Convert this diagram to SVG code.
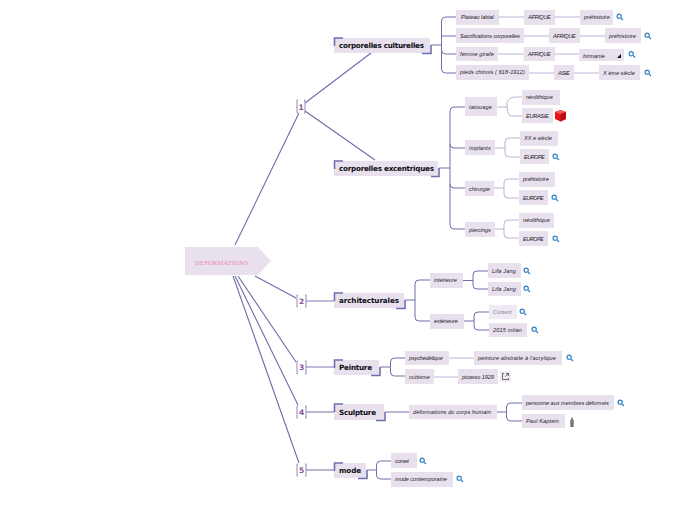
<svg xmlns="http://www.w3.org/2000/svg" width="697" height="520" viewBox="0 0 697 520">
<style>
.n{fill:#e8e1ed}
.t{font-family:"Liberation Sans",sans-serif;font-style:italic;font-size:5.6px;fill:#1d1828;letter-spacing:.2px}
.h{font-family:"DejaVu Sans",sans-serif;font-weight:700;font-size:7.2px;fill:#0c0c12}
.b{font-family:"DejaVu Sans",sans-serif;font-weight:700;font-size:7.5px;fill:#8a5090;text-anchor:middle}
.c,.d,.l,.br,.cn{fill:none}
.d{stroke:#6f6fa8;stroke-width:1}
.c{stroke:#6d6da9;stroke-width:1.1}
.l{stroke:#b6b6d6;stroke-width:1}
.lt{fill:none;stroke:#a9a9cf;stroke-width:1.4}
.br{stroke:#6f6fb0;stroke-width:1.6}
.bk{fill:none;stroke:#8f89ba;stroke-width:1}
.s{fill:none;stroke:#2f80c6;stroke-width:1.2}
</style>
<defs>
<g id="search"><circle cx="-.8" cy="-.8" r="2.1" class="s"/><path d="M.8 .8L3 3" class="s" stroke-width="1.5"/></g>
</defs>
<g id="connectors">
<path class="c" d="M235 245L299 113M305 103L371 53M305 111L375 160M255 276L296 298M238 276L296 362M235 276L298 405M233 276L299 463"/>
<path class="lt" d="M306 301H334M306 367H334"/>
<path class="d" d="M306 412H334M306 470H334"/>
<path class="d" d="M431 45H441.500M456 17H445.500Q441.500 17 441.500 21V69Q441.500 73 445.500 73H456M441.500 36H456M441.500 50Q441.500 54 445.500 54H456"/>
<path class="l" d="M499 17H524M555 17H580M524 36H549M580 36H605M498 54H523.500M555 54H579M529 73H554M574 73H599"/>
<path class="d" d="M439 168H450M465 107H454Q450 107 450 111V225Q450 229 454 229H465M450 144Q450 148 454 148H465M450 184Q450 188 454 188H465"/>
<path class="l" d="M497 107H507M522 97H514Q510 97 507 102Q507 107 507 107Q507 112 510 116H522M495 148H505M520 138H509Q505 138 505 142V153Q505 157 509 157H520M494 188H504M519 179H508Q504 179 504 183V194Q504 198 508 198H519M495 229H504M519 220H508Q504 220 504 224V234Q504 238 508 238H519"/>
<path class="d" d="M405 300H415M430 280H419Q415 280 415 284V317Q415 321 419 321H430"/>
<path class="d" d="M463 280.500H473M488 271H477Q473 271 473 275V285Q473 289 477 289H488M464 321H474M489 312H478Q474 312 474 316V326Q474 330 478 330H489"/>
<path class="d" d="M380 367H390.500M405 358H394.500Q390.500 358 390.500 362V372Q390.500 376 394.500 376H405"/>
<path class="l" d="M449 358H474M434 377H458"/>
<path class="d" d="M385 412H409M497 412H506.500M522 403H510.500Q506.500 403 506.500 407V417Q506.500 421 510.500 421H522"/>
<path class="d" d="M367 470H376.500M391 461H380.500Q376.500 461 376.500 465V475Q376.500 479 380.500 479H391"/>
</g>
<g id="root"><path class="n" d="M185 247H258L271 261L258 275H185Z"/><text x="195" y="265" font-family="Liberation Serif,serif" font-size="6.500" fill="#ee82b4" textLength="53">DEFORMATIONS</text></g>
<g id="badge1"><path class="bk" d="M298 100H297V113H298M304 100H305V113H304"/><text class="b" x="301" y="110">1</text></g>
<g id="badge2"><path class="bk" d="M298 295H297V307H298M305 295H306V307H305"/><text class="b" x="301.500" y="304">2</text></g>
<g id="badge3"><path class="bk" d="M298 361H297V374H298M305 361H306V374H305"/><text class="b" x="301.500" y="370">3</text></g>
<g id="badge4"><path class="bk" d="M298 406H297V418H298M305 406H306V418H305"/><text class="b" x="301.500" y="415">4</text></g>
<g id="badge5"><path class="bk" d="M298 464H297V476H298M305 464H306V476H305"/><text class="b" x="301.500" y="473">5</text></g>

<g id="h1"><rect class="n" x="334" y="38" width="96" height="15"/><path class="br" d="M334.500 46V38H343M422 53.500H431V45"/><text class="h" x="339" y="48" textLength="85">corporelles culturelles</text></g>
<g id="h2"><rect class="n" x="334" y="161" width="104" height="15"/><path class="br" d="M334.500 169V161H343M431 176.500H439V168"/><text class="h" x="339" y="171" textLength="95">corporelles excentriques</text></g>
<g id="h3"><rect class="n" x="334" y="293" width="70" height="15"/><path class="br" d="M334.500 301V293H343M396 308.500H405V300"/><text class="h" x="339" y="303" textLength="60">architecturales</text></g>
<g id="h4"><rect class="n" x="334" y="360" width="45" height="15"/><path class="br" d="M334.500 368V360H343M371 375.500H380V367"/><text class="h" x="339" y="370" textLength="33">Peinture</text></g>
<g id="h5"><rect class="n" x="334" y="404" width="50" height="16"/><path class="br" d="M334.500 412V404H343M376 420.500H385V412"/><text class="h" x="339" y="415" textLength="37">Sculpture</text></g>
<g id="h6"><rect class="n" x="334" y="463" width="32" height="15"/><path class="br" d="M334.500 471V463H343M358 478.500H367V470"/><text class="h" x="339" y="473" textLength="22">mode</text></g>

<g id="n1"><rect class="n" x="456" y="10" width="43" height="15"/><text class="t" x="461" y="19" textLength="33">Plateau labial</text></g>
<g id="n2"><rect class="n" x="524" y="10" width="31" height="15"/><text class="t" x="528" y="19" textLength="23">AFRIQUE</text></g>
<g id="n3"><rect class="n" x="580" y="10" width="33" height="15"/><text class="t" x="584" y="19" textLength="26">préhistoire</text></g>
<use href="#search" x="620" y="17"/>
<g id="n4"><rect class="n" x="456" y="28" width="68" height="15"/><text class="t" x="460" y="38" textLength="60">Sacrifications corporelles</text></g>
<g id="n5"><rect class="n" x="549" y="28" width="31" height="15"/><text class="t" x="553" y="38" textLength="23">AFRIQUE</text></g>
<g id="n6"><rect class="n" x="605" y="28" width="36" height="15"/><text class="t" x="609" y="38" textLength="27">préhistoire</text></g>
<use href="#search" x="648" y="36"/>
<g id="n7"><rect class="n" x="456" y="47" width="42" height="14"/><text class="t" x="460" y="56" textLength="34">femme girafe</text></g>
<g id="n8"><rect class="n" x="523.500" y="47" width="31.500" height="14"/><text class="t" x="528" y="56" textLength="23">AFRIQUE</text></g>
<g id="n9"><rect class="n" x="579" y="49" width="45" height="12"/><text class="t" x="583" y="58" textLength="22">birmanie</text><path d="M617 58L621 54V58Z" fill="#111"/></g>
<use href="#search" x="632" y="54.500"/>
<g id="n10"><rect class="n" x="456" y="65" width="73" height="15"/><text class="t" x="460" y="74" textLength="65">pieds chinois ( 618-1912)</text></g>
<g id="n11"><rect class="n" x="554" y="65" width="20" height="15"/><text class="t" x="558" y="75" textLength="12">ASIE</text></g>
<g id="n12"><rect class="n" x="599" y="65" width="41" height="15"/><text class="t" x="603" y="75" textLength="32">X ème siècle</text></g>
<use href="#search" x="648" y="73"/>

<g id="n13"><rect class="n" x="465" y="97" width="32" height="19"/><text class="t" x="469" y="109" textLength="23">tatouage</text></g>
<g id="n14"><rect class="n" x="522" y="90" width="38" height="15"/><text class="t" x="526" y="99" textLength="27">néolithique</text></g>
<g id="n15"><rect class="n" x="522" y="108" width="31" height="15"/><text class="t" x="526" y="118" textLength="23">EURASIE</text></g>
<g id="cube"><path d="M555 112L560.500 110L566 112V119L560.500 121.500L555 119Z" fill="#e8141c"/><path d="M555 112L560.500 114L566 112L560.500 110Z" fill="#f35a5a"/><path d="M560.500 114V121.500L566 119V112Z" fill="#b80d14"/></g>
<g id="n16"><rect class="n" x="465" y="140" width="30" height="15"/><text class="t" x="469" y="150" textLength="22">implants</text></g>
<g id="n17"><rect class="n" x="520" y="131" width="38" height="15"/><text class="t" x="524" y="140" textLength="28">XX e siècle</text></g>
<g id="n18"><rect class="n" x="520" y="149" width="29" height="15"/><text class="t" x="524" y="159" textLength="21">EUROPE</text></g>
<use href="#search" x="556" y="157"/>
<g id="n19"><rect class="n" x="465" y="181" width="29" height="15"/><text class="t" x="469" y="191" textLength="21">chirurgie</text></g>
<g id="n20"><rect class="n" x="519" y="172" width="36" height="15"/><text class="t" x="523" y="181" textLength="26">préhistoire</text></g>
<g id="n21"><rect class="n" x="519" y="190" width="29" height="15"/><text class="t" x="523" y="200" textLength="21">EUROPE</text></g>
<use href="#search" x="555" y="198"/>
<g id="n22"><rect class="n" x="465" y="222" width="30" height="15"/><text class="t" x="469" y="232" textLength="22">piercings</text></g>
<g id="n23"><rect class="n" x="519" y="213" width="35" height="15"/><text class="t" x="523" y="222" textLength="27">néolithique</text></g>
<g id="n24"><rect class="n" x="519" y="231" width="29" height="15"/><text class="t" x="523" y="241" textLength="21">EUROPE</text></g>
<use href="#search" x="556" y="239"/>

<g id="n25"><rect class="n" x="430" y="273" width="33" height="15"/><text class="t" x="434" y="282" textLength="23">intérieure</text></g>
<g id="n26"><rect class="n" x="430" y="314" width="34" height="15"/><text class="t" x="434" y="323" textLength="24">extérieure</text></g>
<g id="n27"><rect class="n" x="488" y="263" width="33" height="15"/><text class="t" x="492" y="273" textLength="24">Lifa Jang</text></g>
<use href="#search" x="527" y="271"/>
<g id="n28"><rect class="n" x="488" y="282" width="33" height="14"/><text class="t" x="492" y="291" textLength="24">Lifa Jang</text></g>
<use href="#search" x="527" y="289"/>
<g id="n29"><rect class="n" x="489" y="305" width="28" height="14" opacity=".75"/><text class="t" x="493" y="314" textLength="19" style="fill:#8d8a96">Content</text></g>
<use href="#search" x="523" y="312"/>
<g id="n30"><rect class="n" x="489" y="323" width="38" height="14"/><text class="t" x="493" y="332" textLength="29">2015 milan</text></g>
<use href="#search" x="535" y="330"/>
<g id="n31"><rect class="n" x="405" y="351" width="44" height="14"/><text class="t" x="409" y="360" textLength="34">psychédélique</text></g>
<g id="n32"><rect class="n" x="474" y="351" width="88" height="14"/><text class="t" x="478" y="360" textLength="78">peinture abstraite à l'acrylique</text></g>
<use href="#search" x="570" y="358"/>
<g id="n33"><rect class="n" x="405" y="369" width="29" height="15"/><text class="t" x="409" y="379" textLength="21">cubisme</text></g>
<g id="n34"><rect class="n" x="458" y="369" width="40" height="15"/><text class="t" x="462" y="379" textLength="32">picasso 1929</text></g>
<g id="link"><rect x="500" y="371" width="11" height="11" fill="#efeaf1"/><path d="M504 373.500H502.500V379.500H508.500V378M506 373.500H508.500V376M508.500 373.500L505.500 376.500" fill="none" stroke="#333" stroke-width=".7"/></g>

<g id="n35"><rect class="n" x="409" y="405" width="88" height="14"/><text class="t" x="413" y="414" textLength="78">déformations du corps humain</text></g>
<g id="n36"><rect class="n" x="522" y="395" width="92" height="15"/><text class="t" x="526" y="405" textLength="83">personne aux membres déformés</text></g>
<use href="#search" x="621" y="403"/>
<g id="n37"><rect class="n" x="522" y="414" width="43" height="14"/><text class="t" x="526" y="423" textLength="33">Paul Kaptein</text></g>
<g id="fig"><path d="M570.500 427V421L571.500 418L572 416.500L572.500 418L573.500 421V427Z" fill="#666"/><rect x="570" y="420" width="4" height="5" fill="#888" opacity=".7"/></g>
<g id="n38"><rect class="n" x="391" y="453" width="26" height="15"/><text class="t" x="395" y="463" textLength="14">corset</text></g>
<use href="#search" x="423" y="461"/>
<g id="n39"><rect class="n" x="391" y="472" width="62" height="15"/><text class="t" x="395" y="481" textLength="52">mode contemporaine</text></g>
<use href="#search" x="460" y="479"/>
</svg>
